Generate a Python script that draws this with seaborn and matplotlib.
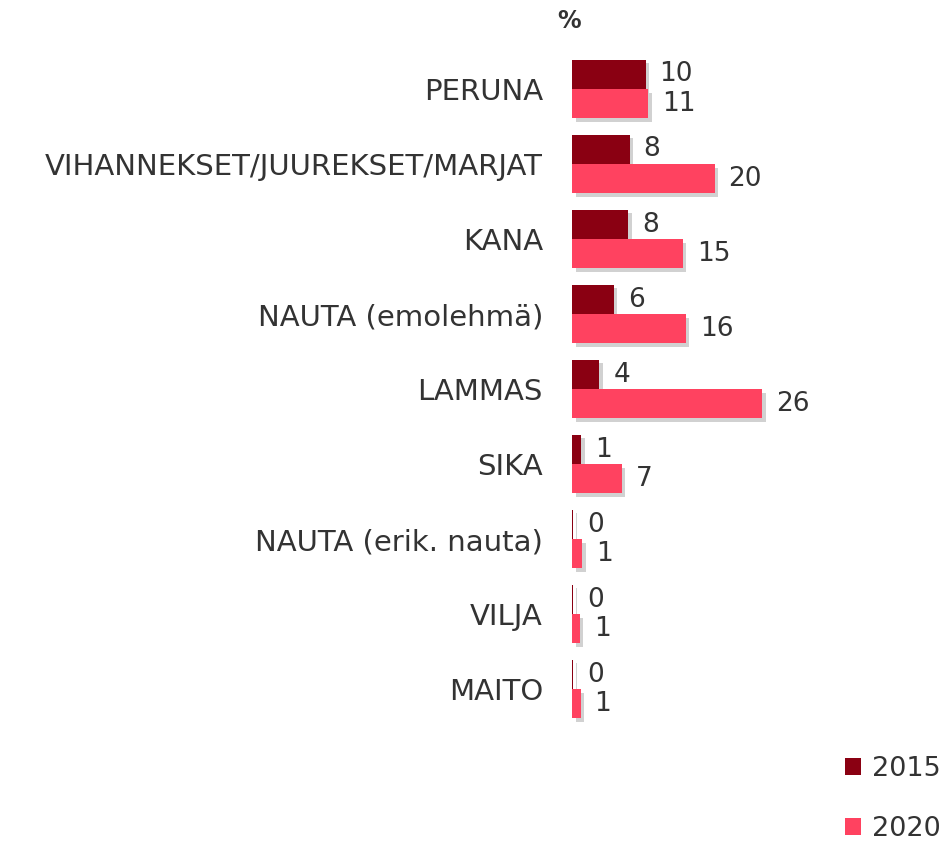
import matplotlib
matplotlib.use("Agg")
import matplotlib.pyplot as plt
import matplotlib.patheffects as pe
from matplotlib.patches import Patch
import seaborn as sns
import pandas as pd

categories = ["PERUNA", "VIHANNEKSET/JUUREKSET/MARJAT", "KANA", "NAUTA (emolehmä)",
              "LAMMAS", "SIKA", "NAUTA (erik. nauta)", "VILJA", "MAITO"]
years = ["2015", "2020"]
values_2015 = [10.2, 8.0, 7.8, 5.8, 3.8, 1.3, 0.15, 0.15, 0.15]
values_2020 = [10.6, 19.8, 15.4, 15.8, 26.4, 6.9, 1.4, 1.1, 1.2]
colors = ["#8A0012", "#FF4260"]

df = pd.DataFrame({
    "category": categories * 2,
    "year": [years[0]] * len(categories) + [years[1]] * len(categories),
    "value": values_2015 + values_2020,
})

sns.set_theme(style="white")
plt.rcParams["font.family"] = ["DejaVu Sans"]

fig = plt.figure(figsize=(9.46, 8.46), dpi=100)
ax = fig.add_axes([0.6047, 0.141, 0.30, 0.798])

sns.barplot(data=df, y="category", x="value", hue="year", orient="h",
            palette=colors, width=0.78, ax=ax, saturation=1, legend=False)

shadow = [pe.SimplePatchShadow(offset=(2.5, -2.5), shadow_rgbFace="#000000", alpha=0.18),
          pe.Normal()]
for p in ax.patches:
    p.set_path_effects(shadow)
    p.set_linewidth(0)

for cont, vals in zip(ax.containers, [values_2015, values_2020]):
    ax.bar_label(cont, labels=[f"{int(v + 0.5):d}" for v in vals], padding=10,
                 fontsize=19, color="#333333")

ax.set_xlim(0, 39.4)
ax.set_ylim(8.5, -0.5)
ax.set_xlabel("")
ax.set_ylabel("")
ax.set_xticks([])
ax.tick_params(axis="y", length=0, pad=21, labelsize=21, labelcolor="#333333")
sns.despine(ax=ax, left=True, bottom=True)

fig.text(0.589, 0.975, "%", fontsize=17, fontweight="bold", color="#333333",
         ha="left", va="center")

handles = [Patch(facecolor=c, edgecolor="none") for c in colors]
fig.legend(handles, years, loc="lower right", bbox_to_anchor=(1.02, -0.024),
           frameon=False, fontsize=19.5, handlelength=0.6, handleheight=0.6,
           handletextpad=0.4, labelspacing=1.25, labelcolor="#333333")

fig.savefig("out.png", dpi=100, facecolor="white")
